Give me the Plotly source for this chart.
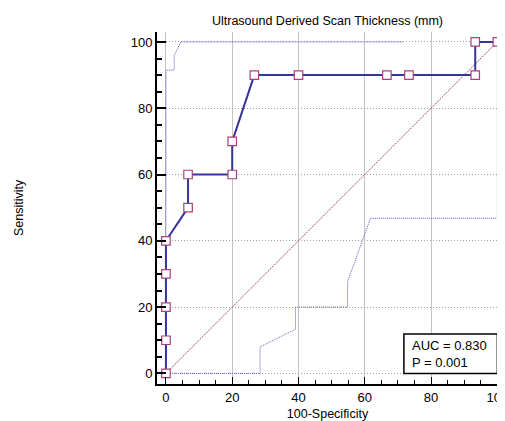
import plotly.graph_objects as go

# ROC curve points (100-Specificity, Sensitivity)
fpr = [0, 0, 0, 0, 0, 6.67, 6.67, 20, 20, 26.67, 40, 66.67, 73.33, 93.33, 93.33, 100]
sens = [0, 10, 20, 30, 40, 50, 60, 60, 70, 90, 90, 90, 90, 90, 100, 100]

# confidence bounds
upper_x = [0, 0, 2.5, 2.5, 4.5, 71.5]
upper_y = [0, 91.5, 91.5, 96, 100, 100]
lower_x = [0, 28.4, 28.4, 39.1, 39.1, 54.8, 54.8, 61.7, 100, 100]
lower_y = [0, 0, 8, 13.3, 20, 20, 27.6, 46.8, 46.8, 100]

diag = [0, 100]
auc_text = "AUC = 0.830<br>P = 0.001"
title = "Ultrasound Derived Scan Thickness (mm)"

FONT = "Liberation Sans, Arial, sans-serif"

# the page body has an 8px margin, so the figure is laid out 8px smaller
W, H = 497, 413
L, R, T, B = 149, 7, 24, 37
PW = W - L - R

fig = go.Figure()
fig.add_trace(go.Scatter(x=diag, y=diag, mode="lines",
                         line=dict(color="#b04a4a", width=1, dash="2px,1px"), hoverinfo="skip"))
fig.add_trace(go.Scatter(x=upper_x, y=upper_y, mode="lines",
                         line=dict(color="#5a5ad0", width=1, dash="1px,1px")))
fig.add_trace(go.Scatter(x=lower_x, y=lower_y, mode="lines",
                         line=dict(color="#5a5ad0", width=1, dash="1px,1px")))
fig.add_trace(go.Scatter(x=fpr, y=sens, mode="lines+markers",
                         line=dict(color="#34349a", width=2),
                         marker=dict(symbol="square", size=8.5, color="white",
                                     line=dict(color="#a8407a", width=1.2))))

# AUC box
fig.add_shape(type="rect", x0=71.8, x1=100, y0=0, y1=11.9, xref="x", yref="y",
              line=dict(color="black", width=1.5), fillcolor="white", layer="above")
fig.add_annotation(x=73.6, y=5.9, xref="x", yref="y", text=auc_text, showarrow=False,
                   xanchor="left", yanchor="middle", align="left",
                   font=dict(family=FONT, size=13, color="black"))

fig.add_annotation(x=(11 - L) / PW, y=0.5, xref="paper", yref="paper", text="Sensitivity",
                   xanchor="center", yanchor="middle",
                   showarrow=False, textangle=-90, font=dict(family=FONT, size=12.5, color="black"))

fig.update_layout(
    width=W, height=H,
    margin=dict(l=L, r=R, t=T, b=B),
    paper_bgcolor="white", plot_bgcolor="white",
    showlegend=False,
    font=dict(family=FONT, size=13, color="black"),
    title=dict(text=title, x=(L + PW / 2) / W, xanchor="center",
               y=1 - 13 / H, yanchor="middle", font=dict(family=FONT, size=12.5)),
    xaxis=dict(range=[-2.7, 100.2], tickvals=[0, 20, 40, 60, 80, 100],
               ticklabeloverflow="allow", automargin=False,
               showgrid=True, gridcolor="#c4c4c4", gridwidth=1,
               zeroline=False, showline=True, linecolor="black", linewidth=2,
               ticks="inside", ticklen=7, tickcolor="black", tickwidth=1,
               minor=dict(dtick=5, tick0=0, ticks="inside", ticklen=4, tickcolor="black", showgrid=False),
               title=dict(text="100-Specificity", standoff=9, font=dict(family=FONT, size=12.5))),
    yaxis=dict(range=[-3.2, 103], tickvals=[0, 20, 40, 60, 80, 100], automargin=False,
               showgrid=True, gridcolor="#a0a0a0", gridwidth=1, griddash="1px,2px",
               zeroline=False, showline=True, linecolor="black", linewidth=2,
               ticks="inside", ticklen=9, tickcolor="black", tickwidth=2,
               minor=dict(dtick=5, tick0=0, ticks="inside", ticklen=5, tickcolor="black", showgrid=False)),
)

fig.write_html("out.html")
